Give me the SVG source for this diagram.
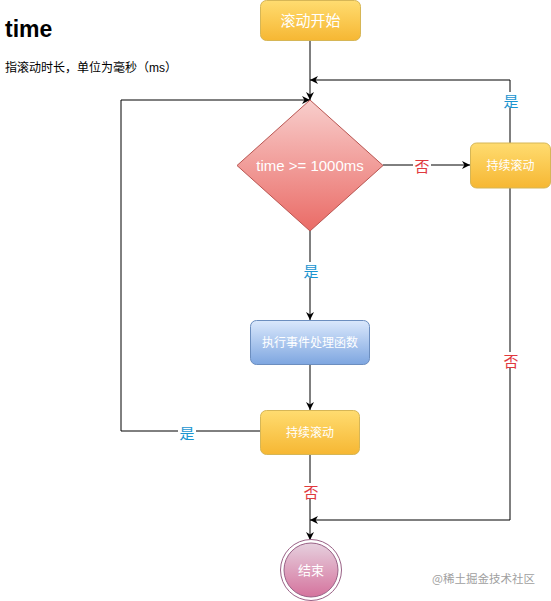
<svg xmlns="http://www.w3.org/2000/svg" width="551" height="601" viewBox="0 0 551 601">
<style>
.ttl{font-family:"Liberation Sans",Arial,sans-serif;font-weight:bold;font-size:23px;fill:#000}
.desc{font-family:"Liberation Sans","Noto Sans CJK SC",sans-serif;font-size:12px;fill:#000}
.nt{font-family:"Liberation Sans","Noto Sans CJK SC",sans-serif;font-size:12px;fill:#fff;text-anchor:middle;dominant-baseline:central}
.dt{font-family:"Liberation Sans","Noto Sans CJK SC",sans-serif;font-size:15px;fill:#fff;text-anchor:middle;dominant-baseline:central}
.line{fill:none;stroke:#000;stroke-width:1}
.lbl{font-family:"Noto Sans CJK SC",sans-serif;font-size:15px;text-anchor:middle;dominant-baseline:central}
.yes{fill:#1b95d0}
.no{fill:#e0393e}
.wm{font-family:"Noto Sans CJK SC",sans-serif;font-size:11.5px;fill:#a0a0a0}
</style>
<defs>
<linearGradient id="gy" x1="0" y1="0" x2="0" y2="1"><stop offset="0" stop-color="#ffdc70"/><stop offset="1" stop-color="#f6b733"/></linearGradient>
<linearGradient id="gr" x1="0" y1="0" x2="0" y2="1"><stop offset="0" stop-color="#f8cecc"/><stop offset="1" stop-color="#ea6b66"/></linearGradient>
<linearGradient id="gb" x1="0" y1="0" x2="0" y2="1"><stop offset="0" stop-color="#dae8fc"/><stop offset="1" stop-color="#7ea6e0"/></linearGradient>
<linearGradient id="gp" x1="0" y1="0" x2="0" y2="1"><stop offset="0" stop-color="#e6d0de"/><stop offset="1" stop-color="#d5739d"/></linearGradient>
<marker id="arr" viewBox="0 0 10 10" refX="10" refY="5" markerWidth="8" markerHeight="8" markerUnits="userSpaceOnUse" orient="auto"><path d="M0,0 L10,5 L0,10 L3,5 Z" fill="#000"/></marker>
</defs>
<rect width="551" height="601" fill="#fff"/>
<text class="ttl" x="5" y="37">time</text>
<text class="desc" x="5" y="72">指滚动时长，单位为毫秒（ms）</text>
<g id="connectors">
<path class="line" d="M310,40 L310,100" marker-end="url(#arr)"/>
<path class="line" d="M383,165 L470,165" marker-end="url(#arr)"/>
<path class="line" d="M510,143 L510,80 L310,80" marker-end="url(#arr)"/>
<path class="line" d="M510,188 L510,520 L310,520" marker-end="url(#arr)"/>
<path class="line" d="M310,231 L310,320" marker-end="url(#arr)"/>
<path class="line" d="M310,365 L310,410" marker-end="url(#arr)"/>
<path class="line" d="M260,431 L121,431 L121,100 L310,100" marker-end="url(#arr)"/>
<path class="line" d="M310,455 L310,540" marker-end="url(#arr)"/>
<rect x="413" y="157" width="18" height="16" fill="#fff"/>
<text class="lbl no" x="422" y="165">否</text>
<rect x="502" y="92" width="18" height="16" fill="#fff"/>
<text class="lbl yes" x="511" y="100">是</text>
<rect x="502" y="352" width="18" height="16" fill="#fff"/>
<text class="lbl no" x="511" y="360">否</text>
<rect x="302" y="262" width="18" height="16" fill="#fff"/>
<text class="lbl yes" x="311" y="270">是</text>
<rect x="178" y="424" width="18" height="16" fill="#fff"/>
<text class="lbl yes" x="187" y="432">是</text>
<rect x="302" y="483" width="18" height="16" fill="#fff"/>
<text class="lbl no" x="311" y="491">否</text>
</g>
<g id="start">
<rect x="260.5" y="0.5" width="100" height="40" rx="6" fill="url(#gy)" stroke="#d6b656"/>
<text class="nt" x="310.5" y="20.5" style="font-size:15px">滚动开始</text>
</g>
<g id="decision">
<path d="M310,100 L383,165.5 L310,231 L237,165.5 Z" fill="url(#gr)" stroke="#b85450"/>
<text class="dt" x="310" y="165.5">time &gt;= 1000ms</text>
</g>
<g id="keep1">
<rect x="470.5" y="143" width="80" height="45" rx="6" fill="url(#gy)" stroke="#d6b656"/>
<text class="nt" x="510.5" y="165.5">持续滚动</text>
</g>
<g id="exec">
<rect x="250.5" y="320.5" width="119" height="44" rx="6" fill="url(#gb)" stroke="#6c8ebf"/>
<text class="nt" x="310" y="342.5">执行事件处理函数</text>
</g>
<g id="keep2">
<rect x="260.5" y="410.5" width="99" height="44" rx="6" fill="url(#gy)" stroke="#d6b656"/>
<text class="nt" x="310" y="432.5">持续滚动</text>
</g>
<g id="end">
<circle cx="311" cy="570" r="30.5" fill="#fff" stroke="#996185"/>
<circle cx="311" cy="570" r="27" fill="url(#gp)" stroke="#996185"/>
<text class="nt" x="311" y="570" style="font-size:13px">结束</text>
</g>
<text class="wm" x="432" y="583">@稀土掘金技术社区</text>
</svg>
